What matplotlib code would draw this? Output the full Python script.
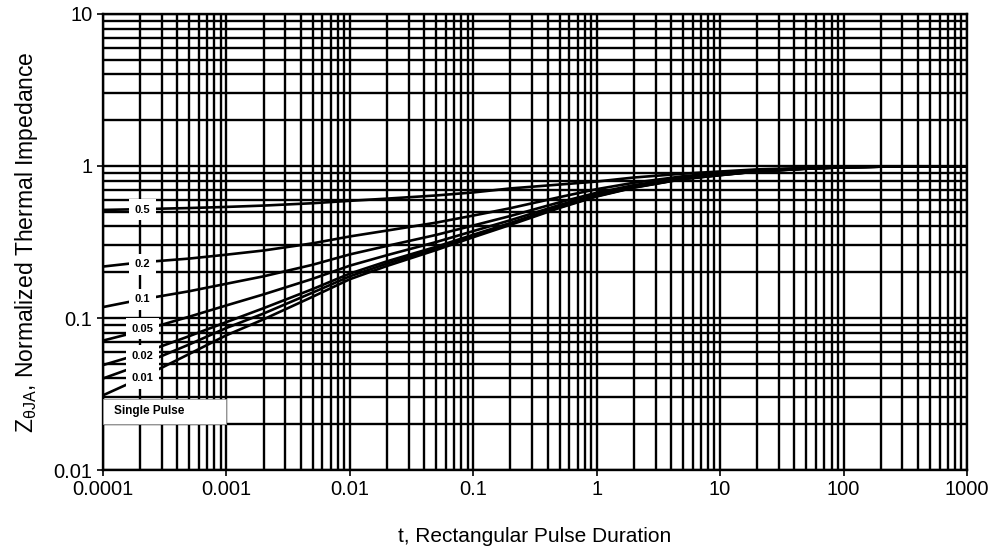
import matplotlib.pyplot as plt
import matplotlib.ticker as mticker
from matplotlib.patches import Rectangle

plt.rcParams['font.family'] = ['Liberation Sans', 'DejaVu Sans']

# pulse duration (s)
t = [1e-4, 2e-4, 5e-4, 1e-3, 2e-3, 5e-3, 1e-2, 2e-2, 5e-2, 0.1, 0.2, 0.5,
     1, 2, 5, 10, 20, 50, 100, 200, 500, 1000]

# normalized thermal impedance, one list per duty cycle
z_05 = [0.514, 0.52, 0.529, 0.538, 0.549, 0.569, 0.59, 0.61, 0.64, 0.67, 0.712, 0.755,
        0.79, 0.84, 0.89, 0.92, 0.95, 0.97, 0.98, 0.99, 0.995, 0.995]
z_02 = [0.218, 0.232, 0.246, 0.261, 0.278, 0.31, 0.344, 0.376, 0.424, 0.472, 0.528, 0.624,
        0.704, 0.776, 0.856, 0.896, 0.936, 0.968, 0.984, 0.992, 0.995, 0.995]
z_01 = [0.118, 0.132, 0.15, 0.168, 0.188, 0.224, 0.262, 0.298, 0.352, 0.406, 0.469, 0.577,
        0.667, 0.748, 0.838, 0.883, 0.928, 0.964, 0.982, 0.99, 0.995, 0.995]
z_005 = [0.071, 0.082, 0.102, 0.121, 0.143, 0.181, 0.221, 0.259, 0.316, 0.373, 0.44, 0.554,
         0.649, 0.734, 0.829, 0.877, 0.924, 0.962, 0.981, 0.99, 0.995, 0.995]
z_002 = [0.049, 0.058, 0.076, 0.094, 0.116, 0.155, 0.196, 0.236, 0.294, 0.353, 0.422, 0.54,
         0.637, 0.726, 0.824, 0.873, 0.922, 0.961, 0.98, 0.99, 0.995, 0.995]
z_001 = [0.040, 0.049, 0.067, 0.086, 0.107, 0.147, 0.188, 0.228, 0.287, 0.347, 0.416, 0.535,
         0.634, 0.723, 0.822, 0.871, 0.921, 0.96, 0.98, 0.99, 0.995, 0.995]
z_single = [0.031, 0.040, 0.058, 0.077, 0.098, 0.138, 0.18, 0.22, 0.28, 0.34, 0.41, 0.53,
            0.63, 0.72, 0.82, 0.87, 0.92, 0.96, 0.98, 0.99, 0.995, 0.995]

curves = [z_05, z_02, z_01, z_005, z_002, z_001, z_single]

# label text and where the label box sits (x, y in data units)
labels = ['0.5', '0.2', '0.1', '0.05', '0.02', '0.01']
label_y = [0.514, 0.226, 0.133, 0.0848, 0.0562, 0.0403]
label_x = 2.1e-4

xticks = [1e-4, 1e-3, 1e-2, 0.1, 1, 10, 100, 1000]
xtick_labels = ['0.0001', '0.001', '0.01', '0.1', '1', '10', '100', '1000']
yticks = [0.01, 0.1, 1, 10]
ytick_labels = ['0.01', '0.1', '1', '10']

fig = plt.figure(figsize=(9.93, 5.51), dpi=100)
ax = fig.add_axes([0.1037, 0.147, 0.8701, 0.8276])

ax.set_xscale('log')
ax.set_yscale('log')
ax.set_xlim(1e-4, 1000)
ax.set_ylim(0.01, 10)
ax.set_axisbelow(True)

for z in curves:
    ax.plot(t, z, color='black', linewidth=1.9, zorder=2)

for txt, y in zip(labels, label_y):
    ax.text(label_x, y, txt, fontsize=8, fontweight='bold', ha='center', va='center',
            zorder=5, bbox=dict(facecolor='white', edgecolor='none', pad=4))

ax.add_patch(Rectangle((1e-4, 0.0202), 1e-3 - 1e-4, 0.0292 - 0.0202, facecolor='white',
                       edgecolor='#999999', linewidth=0.6, zorder=4))
ax.text(1.22e-4, 0.0243, 'Single Pulse', fontsize=8.5, fontweight='bold', ha='left',
        va='center', zorder=5)

ax.set_xticks(xticks)
ax.set_xticklabels(xtick_labels)
ax.set_yticks(yticks)
ax.set_yticklabels(ytick_labels)
ax.xaxis.set_minor_locator(mticker.LogLocator(base=10, subs=range(2, 10), numticks=20))
ax.yaxis.set_minor_locator(mticker.LogLocator(base=10, subs=range(2, 10), numticks=20))
ax.xaxis.set_minor_formatter(mticker.NullFormatter())
ax.yaxis.set_minor_formatter(mticker.NullFormatter())
ax.grid(True, which='both', color='black', linewidth=1.7)
ax.tick_params(which='minor', length=0)
ax.tick_params(which='major', length=4, width=1.2, labelsize=14.5, direction='out')

for s in ax.spines.values():
    s.set_linewidth(1.7)

ax.set_xlabel('t, Rectangular Pulse Duration', fontsize=15, labelpad=20)
ax.set_ylabel(r'$\mathregular{Z_{\theta JA}}$, Normalized Thermal Impedance', fontsize=16.5,
              labelpad=10)

fig.savefig('out.png', dpi=100)
